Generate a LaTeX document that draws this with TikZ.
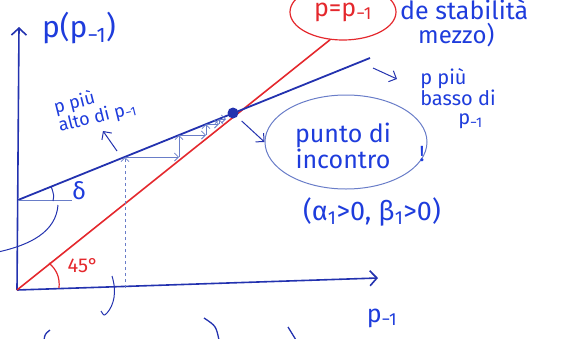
\documentclass[tikz,border=0pt]{standalone}
\usepackage{fontspec}
\setmainfont{Fira Sans}
\usetikzlibrary{arrows.meta,shapes.geometric}
\definecolor{ink}{RGB}{35,50,175}
\definecolor{pen}{RGB}{30,60,220}
\definecolor{redink}{RGB}{228,40,45}
\definecolor{pale}{RGB}{105,125,200}
\newcommand{\sbm}{\textsubscript{−1}}
\tikzset{
  tip/.style={-{Straight Barb[length=6pt,width=12pt]}},
  axisline/.style={draw=ink, line width=1.6pt, -{Straight Barb[length=7pt,width=15pt]}},
  redline/.style={draw=redink, line width=1.6pt},
  blueline/.style={draw=ink, line width=1.8pt},
  cob/.style={draw=pale, line width=0.8pt, -{Straight Barb[length=4pt,width=8pt]}},
  pentext/.style={text=pen, inner sep=0pt},
  redtext/.style={text=redink, inner sep=0pt},
  thinpen/.style={draw=ink, line width=1pt},
}
\begin{document}
\begin{tikzpicture}[x=1pt,y=-1pt]
\useasboundingbox (0,0) rectangle (562,338);
\clip (0,0) rectangle (562,338);
% axes
\coordinate (O) at (17,290);
\coordinate (ytop) at (19,27);
\coordinate (xend) at (378,278);
\draw[axisline] (O) -- (ytop);
\draw[axisline] (O) -- (xend);
% red 45 degree line and its ellipse label
\node[ellipse, draw=redink, line width=1.2pt, minimum width=106pt, minimum height=56pt, redtext, font=\fontsize{25}{25}\selectfont] (eq) at (343,12) {p=p\sbm};
\draw[redline] (O) -- (eq.245);
% blue line
\coordinate (bl) at (18,200);
\coordinate (br) at (370,58);
\draw[blueline] (bl) -- (br);
% intersection point
\node[circle, fill=ink, inner sep=0pt, minimum size=11pt] (E) at (233,113) {};
% angle delta
\coordinate (bh) at (72,200);
\draw[draw=pale, line width=1pt] (bl) -- (bh);
\draw[thinpen] (53,201) .. controls (54,195) .. (51,186);
\node[pentext, font=\fontsize{24}{24}\selectfont] (delta) at (79,191) {δ};
\draw[thinpen] (58,205) .. controls (56,232) and (30,245) .. (-2,252);
% 45 degrees
\draw[draw=redink, line width=1.2pt] (49,263) .. controls (57,270) and (60,278) .. (59,288);
\node[redtext, font=\fontsize{20}{20}\selectfont] (deg) at (83,266) {45°};
\draw[thinpen] (112,276) .. controls (117,292) and (114,305) .. (107,313) .. controls (104,316) .. (101,311);
% cobweb
\coordinate (c0) at (125,288);
\coordinate (c1) at (125,157);
\coordinate (c2) at (179,157);
\coordinate (c3) at (179,135);
\coordinate (c4) at (206,135);
\coordinate (c5) at (206,124);
\coordinate (c6) at (219,124);
\coordinate (c7) at (219,119);
\coordinate (c8) at (226,119);
\draw[cob, dashed] (c0) -- (c1);
\draw[cob] (c1) -- (c2);
\draw[cob] (c2) -- (c3);
\draw[cob] (c3) -- (c4);
\draw[cob] (c4) -- (c5);
\draw[cob] (c5) -- (c6);
\draw[cob] (c6) -- (c7);
\draw[cob] (c7) -- (c8);
% labels
\node[pentext, font=\fontsize{30}{30}\selectfont] (ylab) at (79,28) {p(p\sbm)};
\node[pentext, font=\fontsize{25}{25}\selectfont] (xlab) at (382,318) {p\sbm};
\node[pentext, font=\fontsize{18}{17}\selectfont, align=left, rotate=14] (alto) at (95,108) {p più\\alto di p\sbm};
\coordinate (a1) at (117,151);
\coordinate (a2) at (103,131);
\draw[thinpen, tip] (a1) -- (a2);
\node[pentext, font=\fontsize{20}{19}\selectfont, align=left] (basso) at (458,99) {p più\\basso di\\\hspace{1.9em}p\sbm};
\coordinate (b1) at (373,68);
\coordinate (b2) at (397,79);
\draw[thinpen, tip] (b1) -- (b2);
\node[pentext, font=\fontsize{25}{25}\selectfont, anchor=west] (stab) at (400,10) {de stabilità};
\node[pentext, font=\fontsize{24}{24}\selectfont, anchor=west] (mezzo) at (418,35) {mezzo)};
\node[ellipse, draw=pale, line width=1pt, minimum width=162pt, minimum height=94pt, inner sep=0pt] (meet) at (346,142) {};
\node[pentext, font=\fontsize{25}{22}\selectfont, align=center] (meettext) at (343,146) {punto di\\incontro};
\node[pentext, font=\fontsize{22}{22}\selectfont] (bang) at (422,154) {!};
\draw[thinpen, tip, shorten <=6pt] (E) -- (meet.west);
\node[pentext, font=\fontsize{27}{27}\selectfont] (cond) at (372,212) {(α\textsubscript{1}>0, β\textsubscript{1}>0)};
% strokes at the bottom edge
\draw[thinpen, line width=1.3pt] (50,330) .. controls (45,334) .. (44,340);
\draw[thinpen, line width=1.3pt] (204,318) .. controls (216,326) .. (219,340);
\draw[thinpen, line width=1.3pt] (288,327) -- (296,340);
\end{tikzpicture}
\end{document}
